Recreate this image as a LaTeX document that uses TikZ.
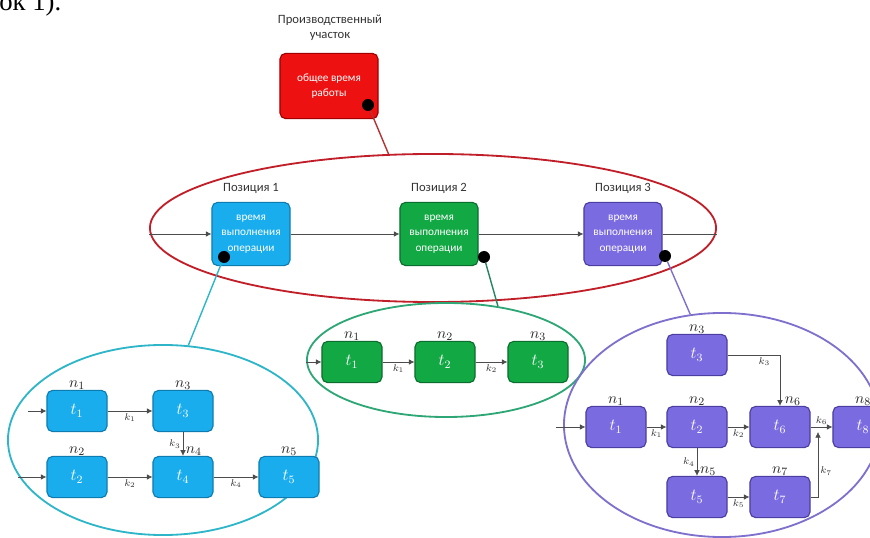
\documentclass[tikz,border=0pt]{standalone}
\usepackage{fontspec}
\setmainfont{Carlito}
\newfontfamily\pageserif{Liberation Serif}
\usetikzlibrary{positioning, arrows.meta, shapes.geometric}

\definecolor{redfill}{HTML}{EE1111}
\definecolor{redline}{HTML}{A00000}
\definecolor{bluefill}{HTML}{1AADEE}
\definecolor{blueline}{HTML}{0E7CB0}
\definecolor{greenfill}{HTML}{12A844}
\definecolor{greenline}{HTML}{0B6E2E}
\definecolor{purplefill}{HTML}{7B6BE0}
\definecolor{purpleline}{HTML}{4A3EA0}
\definecolor{ringred}{HTML}{C01E28}
\definecolor{ringblue}{HTML}{2EB6C8}
\definecolor{ringgreen}{HTML}{2FA676}
\definecolor{ringpurple}{HTML}{7E70CC}

\tikzset{
  opbox/.style={draw, rounded corners=4pt, line width=0.8pt, text=white, align=center, inner sep=1pt},
  bigbox/.style={opbox, minimum width=1.95cm, minimum height=1.58cm, font=\fontsize{8}{11}\selectfont},
  smallbox/.style={opbox, minimum width=1.5cm, minimum height=1.03cm, font=\fontsize{12}{12}\selectfont},
  redbox/.style={fill=redfill, draw=redline},
  bluebox/.style={fill=bluefill, draw=blueline},
  greenbox/.style={fill=greenfill, draw=greenline},
  purplebox/.style={fill=purplefill, draw=purpleline},
  hoop/.style={ellipse, draw, line width=1.3pt, inner sep=0pt},
  flow/.style={-{Latex[length=4pt,width=4pt]}, line width=0.45pt, draw=black!70},
  plain/.style={line width=0.45pt, draw=black!70},
  link/.style={line width=1pt},
  dot/.style={circle, fill=black, inner sep=0pt, minimum size=0.3cm},
  caption/.style={font=\fontsize{9}{11}\selectfont, text=black!80, align=center},
  nlab/.style={font=\fontsize{11}{11}\selectfont, text=black!85, inner sep=1pt},
  klab/.style={font=\fontsize{7}{7}\selectfont, text=black!80, inner sep=1.5pt}
}

\begin{document}
\begin{tikzpicture}[x=0.025cm, y=-0.025cm]
\useasboundingbox (0,0) rectangle (870,538);

% text of the page above the figure
\node[anchor=base west, inner sep=0pt, font=\pageserif\fontsize{19}{19}\selectfont] (pagetext) at (-1,11) {ок 1).};

% ---------------- production site ----------------
\node[caption] (sitename) at (330,28) {Производственный\\участок};
\node[bigbox, redbox, minimum width=2.45cm, minimum height=1.63cm] (site) at (329,86) {общее время\\работы};
\node[dot] (dS) at (368,105) {};

% ---------------- positions ----------------
\node[hoop, draw=ringred, minimum width=14.15cm, minimum height=3.7cm] (line) at (433,228) {};

\node[bigbox, bluebox] (pos1) at (251,234) {время\\выполнения\\операции};
\node[bigbox, greenbox] (pos2) at (439,234) {время\\выполнения\\операции};
\node[bigbox, purplebox] (pos3) at (623,234) {время\\выполнения\\операции};

\node[caption, above=2pt of pos1] (cap1) {Позиция 1};
\node[caption, above=2pt of pos2] (cap2) {Позиция 2};
\node[caption, above=2pt of pos3] (cap3) {Позиция 3};

\draw[flow] (line.west |- pos1) -- (pos1);
\draw[flow] (pos1) -- (pos2);
\draw[flow] (pos2) -- (pos3);
\draw[plain] (pos3) -- (line.east |- pos3);

\node[dot] (dP1) at (224,257) {};
\node[dot] (dP2) at (484,257) {};
\node[dot] (dP3) at (665,256) {};

% ---------------- position 1 ----------------
\node[hoop, draw=ringblue, minimum width=7.75cm, minimum height=4.75cm] (ringA) at (163,440) {};

\node[smallbox, bluebox] (A1) at (77,411) {$t_1$};
\node[smallbox, bluebox] (A3) at (183,411) {$t_3$};
\node[smallbox, bluebox] (A2) at (77,477) {$t_2$};
\node[smallbox, bluebox] (A4) at (183,477) {$t_4$};
\node[smallbox, bluebox] (A5) at (289,477) {$t_5$};

\node[nlab, above=-1pt of A1] {$n_1$};
\node[nlab, above=-1pt of A3] {$n_3$};
\node[nlab, above=-1pt of A2] {$n_2$};
\node[nlab, above=-1pt of A4, xshift=0.27cm] {$n_4$};
\node[nlab, above=-1pt of A5] {$n_5$};

\coordinate (inA1) at (28,411);
\coordinate (inA2) at (18,477);
\draw[flow] (inA1) -- (A1);
\draw[flow] (inA2) -- (A2);
\draw[flow] (A1) -- node[klab, below] {$k_1$} (A3);
\draw[flow] (A3) -- node[klab, left] {$k_3$} (A4);
\draw[flow] (A2) -- node[klab, below] {$k_2$} (A4);
\draw[flow] (A4) -- node[klab, below] {$k_4$} (A5);

% ---------------- position 2 ----------------
\node[hoop, draw=ringgreen, minimum width=6.95cm, minimum height=2.85cm] (ringB) at (446,360) {};

\node[smallbox, greenbox] (B1) at (352,362) {$t_1$};
\node[smallbox, greenbox] (B2) at (445,362) {$t_2$};
\node[smallbox, greenbox] (B3) at (538,362) {$t_3$};

\node[nlab, above=-1pt of B1] {$n_1$};
\node[nlab, above=-1pt of B2] {$n_2$};
\node[nlab, above=-1pt of B3] {$n_3$};

\draw[flow] (ringB.west |- B1) -- (B1);
\draw[flow] (B1) -- node[klab, below] {$k_1$} (B2);
\draw[flow] (B2) -- node[klab, below] {$k_2$} (B3);

% ---------------- position 3 ----------------
\node[hoop, draw=ringpurple, minimum width=7.9cm, minimum height=5.6cm] (ringC) at (722,425) {};

\node[smallbox, purplebox] (C3) at (697,355) {$t_3$};
\node[smallbox, purplebox] (C1) at (616,427) {$t_1$};
\node[smallbox, purplebox] (C2) at (697,427) {$t_2$};
\node[smallbox, purplebox] (C6) at (780,427) {$t_6$};
\node[smallbox, purplebox] (C8) at (863,427) {$t_8$};
\node[smallbox, purplebox] (C5) at (697,497) {$t_5$};
\node[smallbox, purplebox] (C7) at (780,497) {$t_7$};

\node[nlab, above=-1pt of C3] {$n_3$};
\node[nlab, above=-1pt of C1] {$n_1$};
\node[nlab, above=-1pt of C2] {$n_2$};
\node[nlab, above=-1pt of C6, xshift=0.32cm] {$n_6$};
\node[nlab, above=-1pt of C8] {$n_8$};
\node[nlab, above=-1pt of C5, xshift=0.28cm] {$n_5$};
\node[nlab, above=-1pt of C7] {$n_7$};

\coordinate (inC1) at (556,427);
\coordinate (J) at (818,432);
\draw[flow] (inC1) -- (C1);
\draw[flow] (C1) -- node[klab, below] {$k_1$} (C2);
\draw[flow] (C2) -- node[klab, below] {$k_2$} (C6);
\draw[flow] (C3) -| node[klab, pos=0.35, below] {$k_3$} (C6);
\draw[flow] (C2) -- node[klab, left] {$k_4$} (C5);
\draw[flow] (C5) -- node[klab, below] {$k_5$} (C7);
\draw[flow] (C7) -| node[klab, pos=0.7, right] {$k_7$} (J);
\draw[flow] (C6) -- node[klab, above] {$k_6$} (C8);

% ---------------- links between levels ----------------
\draw[link, draw=redline!80] (dS) -- (line.121);
\draw[link, draw=ringblue] (dP1) -- (ringA.75);
\draw[link, draw=ringgreen!80!black] (dP2) -- (ringB.46);
\draw[link, draw=ringpurple] (dP3) -- (ringC.106);

\end{tikzpicture}
\end{document}
